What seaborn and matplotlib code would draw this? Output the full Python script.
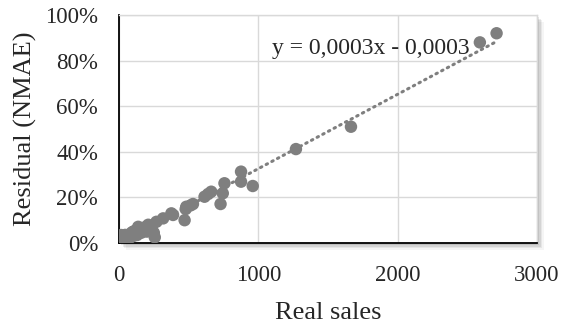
import numpy as np
import pandas as pd
import matplotlib
matplotlib.use("Agg")
import matplotlib.pyplot as plt
from matplotlib.patches import Rectangle
from matplotlib.ticker import PercentFormatter
import seaborn as sns

# Real sales vs. residual error (NMAE) per item
real_sales = [
    2710, 2590, 1665, 1270,
    876, 876, 960, 757, 745, 729, 662, 640, 614, 531, 514, 483, 479, 471,
    388, 376, 317, 269, 221, 174, 138, 102, 43,
    0, 5, 10, 15, 20, 30, 40, 45, 55, 65, 70, 80, 90, 100, 110, 120,
    130, 140, 150, 160, 170, 180, 190, 200, 210, 220, 235, 250, 257,
]
residual = [
    0.920, 0.880, 0.510, 0.412,
    0.313, 0.269, 0.250, 0.262, 0.218, 0.171, 0.225, 0.215, 0.203, 0.171, 0.165, 0.159, 0.149, 0.100,
    0.123, 0.130, 0.108, 0.093, 0.066, 0.057, 0.071, 0.050, 0.035,
    0.025, 0.009, 0.015, 0.035, 0.005, 0.020, 0.010, 0.035, 0.025, 0.015, 0.035, 0.025, 0.045, 0.030, 0.040, 0.055,
    0.035, 0.050, 0.065, 0.045, 0.060, 0.055, 0.070, 0.050, 0.080, 0.065, 0.075, 0.045, 0.025,
]

x_ticks = [0, 1000, 2000, 3000]
y_ticks = [0.0, 0.2, 0.4, 0.6, 0.8, 1.0]

df = pd.DataFrame({"Real sales": real_sales, "Residual (NMAE)": residual})

sns.set_style("white")
plt.rcParams["font.family"] = ["Liberation Serif", "DejaVu Serif"]

fig = plt.figure(figsize=(5.62, 3.25), dpi=100)
ax = fig.add_axes([0.2117, 0.2523, 0.7438, 0.7015])

# soft drop shadow behind the plot area (right and bottom)
pos = ax.get_position()
for i, a in enumerate([0.10, 0.08, 0.06, 0.04]):
    off = (i + 1) * 1.8
    fig.patches.append(Rectangle(
        (pos.x0 + off / 562, pos.y0 - off / 325),
        pos.width, pos.height,
        transform=fig.transFigure, facecolor="black", alpha=a,
        edgecolor="none", zorder=0))
ax.set_zorder(1)
ax.set_facecolor("white")

gray = "#7f7f7f"

# linear trend line fitted on the data
slope, intercept = np.polyfit(df["Real sales"], df["Residual (NMAE)"], 1)
xs = np.array([df["Real sales"].min(), df["Real sales"].max()])
ax.plot(xs, slope * xs + intercept, color=gray, lw=2.2,
        linestyle=(0, (0.5, 1.6)), dash_capstyle="round", zorder=2)

sns.scatterplot(data=df, x="Real sales", y="Residual (NMAE)", ax=ax,
                color=gray, s=80, edgecolor="none", zorder=3)

def fmt(v):
    return f"{abs(v):.4f}".replace(".", ",")

sign = "-" if intercept < 0 else "+"
ax.text(1095, 0.855, f"y = {fmt(slope)}x {sign} {fmt(intercept)}",
        fontsize=17, va="center", ha="left", zorder=4)

ax.set_xlim(0, 3000)
ax.set_ylim(0, 1.0)
ax.set_xticks(x_ticks)
ax.set_yticks(y_ticks)
ax.yaxis.set_major_formatter(PercentFormatter(1.0, decimals=0))
ax.grid(True, color="#d9d9d9", lw=1.0)
ax.set_axisbelow(True)

for side in ["top", "right"]:
    ax.spines[side].set_color("#d9d9d9")
    ax.spines[side].set_linewidth(1.0)
for side in ["left", "bottom"]:
    ax.spines[side].set_color("black")
    ax.spines[side].set_linewidth(1.3)

ax.tick_params(axis="x", labelsize=16.5, length=0, pad=16)
ax.tick_params(axis="y", labelsize=16.5, length=0, pad=15)
ax.set_xlabel("Real sales", fontsize=19, labelpad=11)
ax.set_ylabel("Residual (NMAE)", fontsize=19, labelpad=6)

fig.savefig("out.png", dpi=100)
